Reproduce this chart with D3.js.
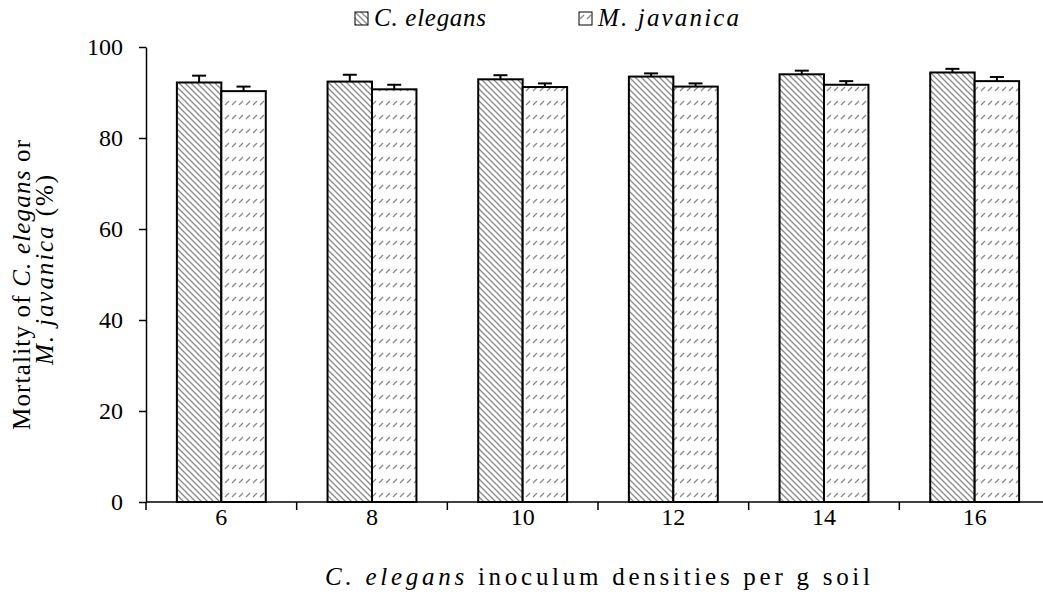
<!DOCTYPE html>
<html>
<head>
<meta charset="utf-8">
<script src="https://cdn.jsdelivr.net/npm/d3@7"></script>
<style>
    body { margin: 0; background: #fff; }
    svg { display: block; }
    text { font-family: "Liberation Serif", "Times New Roman", serif; fill: #000; }
</style>
</head>
<body>
<div id="chart"></div>
<script>
const densities = ['6', '8', '10', '12', '14', '16'];
const seriesNames = ['C. elegans', 'M. javanica'];
const elegansValues = [92.2, 92.4, 92.9, 93.5, 94.0, 94.4];
const elegansErrors = [1.5, 1.5, 0.9, 0.7, 0.8, 0.8];
const javanicaValues = [90.3, 90.7, 91.2, 91.3, 91.7, 92.5];
const javanicaErrors = [1.0, 1.0, 0.8, 0.7, 0.8, 0.9];
const yTicks = [0, 20, 40, 60, 80, 100];

const width = 1043;
const height = 607;
const margin = { left: 146, right: -7, top: 47, bottom: 105 };

const svg = d3.select('#chart').append('svg')
    .attr('width', width)
    .attr('height', height);

const defs = svg.append('defs');

// dense downward diagonal for C. elegans
const p1 = defs.append('pattern')
    .attr('id', 'hatch-elegans')
    .attr('patternUnits', 'userSpaceOnUse')
    .attr('width', 6).attr('height', 6);
p1.append('rect').attr('width', 6).attr('height', 6).attr('fill', '#fff');
p1.append('path')
    .attr('d', 'M-1,-1 L7,7 M-1,5 L1,7 M5,-1 L7,1')
    .attr('stroke', '#8a8a8a').attr('stroke-width', 1.3);

// short dashed upward diagonals for M. javanica
const p2 = defs.append('pattern')
    .attr('id', 'hatch-javanica')
    .attr('patternUnits', 'userSpaceOnUse')
    .attr('width', 7).attr('height', 14);
p2.append('rect').attr('width', 7).attr('height', 14).attr('fill', '#fff');
p2.append('path')
    .attr('d', 'M1,7 L5,3')
    .attr('stroke', '#8a8a8a').attr('stroke-width', 1.3);

const x0 = d3.scaleBand()
    .domain(densities)
    .range([margin.left, width - margin.right])
    .paddingInner(0.41)
    .paddingOuter(0.205);

const x1 = d3.scaleBand()
    .domain(seriesNames)
    .range([0, x0.bandwidth()]);

const y = d3.scaleLinear()
    .domain([0, 100])
    .range([height - margin.bottom, margin.top]);

const series = [
    { name: seriesNames[0], values: elegansValues, errors: elegansErrors, fill: 'url(#hatch-elegans)' },
    { name: seriesNames[1], values: javanicaValues, errors: javanicaErrors, fill: 'url(#hatch-javanica)' }
];

const rows = [];
series.forEach(s => {
    densities.forEach((d, i) => {
        rows.push({ density: d, name: s.name, value: s.values[i], err: s.errors[i], fill: s.fill });
    });
});

const bars = svg.append('g');
bars.selectAll('rect')
    .data(rows)
    .enter()
    .append('rect')
    .attr('x', d => x0(d.density) + x1(d.name))
    .attr('y', d => y(d.value))
    .attr('width', x1.bandwidth())
    .attr('height', d => y(0) - y(d.value))
    .attr('fill', d => d.fill)
    .attr('stroke', '#000')
    .attr('stroke-width', 2);

// error bars, upper half only
const errG = svg.append('g').attr('stroke', '#000').attr('stroke-width', 2);
rows.forEach(d => {
    const cx = x0(d.density) + x1(d.name) + x1.bandwidth() / 2;
    errG.append('line')
        .attr('x1', cx).attr('x2', cx)
        .attr('y1', y(d.value)).attr('y2', y(d.value + d.err));
    errG.append('line')
        .attr('x1', cx - 7).attr('x2', cx + 7)
        .attr('y1', y(d.value + d.err)).attr('y2', y(d.value + d.err));
});

// y axis
const yAxis = svg.append('g')
    .attr('transform', `translate(${margin.left},0)`)
    .call(d3.axisLeft(y).tickValues(yTicks).tickSize(7).tickPadding(16).tickSizeOuter(0));
yAxis.selectAll('path, line').attr('stroke', '#000').attr('stroke-width', 1.5);
yAxis.selectAll('text').style('font-size', '24px');

// x axis with ticks between categories
const xAxisG = svg.append('g').attr('transform', `translate(0,${y(0)})`);
xAxisG.append('line')
    .attr('x1', margin.left).attr('x2', width)
    .attr('stroke', '#000').attr('stroke-width', 1.5);
const step = x0.step();
const bounds = [margin.left].concat(densities.map(d => x0(d) + x0.bandwidth() / 2 + step / 2));
xAxisG.selectAll('line.tick')
    .data(bounds)
    .enter()
    .append('line')
    .attr('class', 'tick')
    .attr('x1', d => d).attr('x2', d => d)
    .attr('y1', 0).attr('y2', 8)
    .attr('stroke', '#000').attr('stroke-width', 1.5);
xAxisG.selectAll('text')
    .data(densities)
    .enter()
    .append('text')
    .attr('x', d => x0(d) + x0.bandwidth() / 2)
    .attr('y', 15)
    .attr('dy', '0.32em')
    .attr('text-anchor', 'middle')
    .style('font-size', '24px')
    .text(d => d);

// x axis title
const xt = svg.append('text')
    .attr('x', 325).attr('y', 585)
    .attr('textLength', 545)
    .style('font-size', '25px');
xt.append('tspan').style('font-style', 'italic').text('C. elegans');
xt.append('tspan').text(' inoculum densities per g soil');

// y axis title
const yt = svg.append('g').attr('transform', 'rotate(-90)');
const l1 = yt.append('text').attr('x', -430).attr('y', 30)
    .attr('textLength', 290).style('font-size', '25px');
l1.append('tspan').text('Mortality of ');
l1.append('tspan').style('font-style', 'italic').text('C. elegans');
l1.append('tspan').text(' or');
const l2 = yt.append('text').attr('x', -365).attr('y', 53)
    .attr('textLength', 190).style('font-size', '25px');
l2.append('tspan').style('font-style', 'italic').text('M. javanica');
l2.append('tspan').text(' (%)');

// legend
const legend = svg.append('g');
const legendX = [355, 579];
const legendW = [112, 141];
series.forEach((s, i) => {
    const g = legend.append('g').attr('transform', `translate(${legendX[i]},12)`);
    g.append('rect')
        .attr('width', 13).attr('height', 13)
        .attr('fill', s.fill)
        .attr('stroke', '#000').attr('stroke-width', 1);
    g.append('text')
        .attr('x', 19).attr('y', 14)
        .attr('textLength', legendW[i])
        .style('font-size', '25px')
        .style('font-style', 'italic')
        .text(s.name);
});
</script>
</body>
</html>
